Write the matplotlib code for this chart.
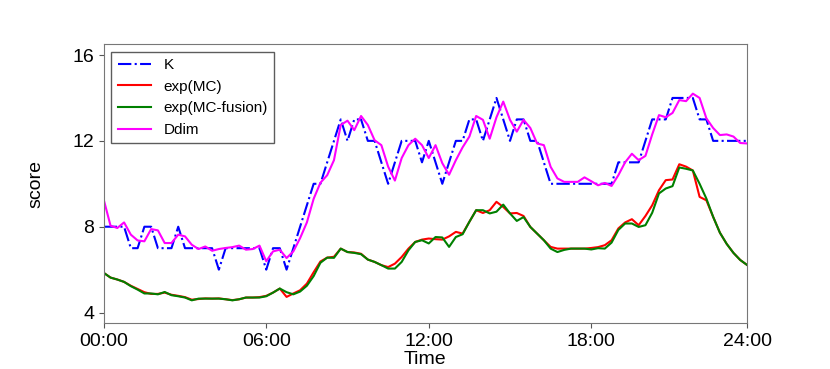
import matplotlib
matplotlib.use("Agg")
import matplotlib.pyplot as plt

plt.rcParams['font.family'] = ['Liberation Sans', 'DejaVu Sans']

# 15-min samples, index 0..95
K = [8, 8, 8, 8, 7, 7, 8, 8, 7, 7, 7, 8, 7, 7, 7, 7, 7, 6, 7, 7, 7, 7, 7, 7,
     6, 7, 7, 6, 7, 8, 9, 10, 10, 11, 12, 13, 12, 13, 13, 12, 12, 11, 10, 11,
     12, 12, 12, 11, 12, 11, 10, 11, 12, 12, 13, 13, 12, 13, 14, 13, 12, 13, 13, 12,
     12, 11, 10, 10, 10, 10, 10, 10, 10, 10, 10, 10, 11, 11, 11, 11, 12, 13, 13, 13,
     14, 14, 14, 14, 13, 13, 12, 12, 12, 12, 12, 12]

exp_mc = [5.85, 5.63, 5.54, 5.43, 5.25, 5.10, 4.95, 4.87, 4.87, 4.93, 4.83, 4.78,
          4.72, 4.60, 4.63, 4.66, 4.65, 4.66, 4.62, 4.58, 4.62, 4.70, 4.70, 4.72,
          4.78, 4.93, 5.12, 4.73, 4.89, 5.04, 5.35, 5.88, 6.38, 6.56, 6.60, 6.98,
          6.82, 6.80, 6.74, 6.47, 6.36, 6.21, 6.12, 6.28, 6.59, 6.98, 7.29, 7.40,
          7.45, 7.42, 7.40, 7.55, 7.76, 7.68, 8.23, 8.77, 8.64, 8.77, 9.16, 8.92,
          8.62, 8.64, 8.50, 7.99, 7.68, 7.37, 7.06, 6.98, 6.98, 6.98, 6.98, 6.98,
          7.01, 7.05, 7.14, 7.37, 7.92, 8.20, 8.35, 8.07, 8.50, 9.00, 9.70, 10.17,
          10.20, 10.91, 10.80, 10.62, 9.39, 9.23, 8.46, 7.72, 7.20, 6.78, 6.45, 6.22]

exp_mc_fusion = [5.85, 5.63, 5.54, 5.43, 5.23, 5.07, 4.89, 4.89, 4.85, 4.96, 4.81, 4.76,
                 4.70, 4.57, 4.65, 4.65, 4.65, 4.65, 4.62, 4.57, 4.62, 4.70, 4.70, 4.70,
                 4.76, 4.93, 5.12, 4.95, 4.85, 4.98, 5.25, 5.70, 6.32, 6.56, 6.55, 6.98,
                 6.82, 6.78, 6.72, 6.47, 6.36, 6.21, 6.05, 6.05, 6.36, 6.90, 7.29, 7.37,
                 7.22, 7.52, 7.50, 7.06, 7.52, 7.65, 8.23, 8.77, 8.77, 8.62, 8.70, 9.03,
                 8.62, 8.27, 8.45, 7.99, 7.68, 7.37, 6.98, 6.82, 6.92, 6.98, 6.98, 6.98,
                 6.94, 7.00, 6.98, 7.26, 7.85, 8.15, 8.15, 7.99, 8.07, 8.65, 9.55, 9.78,
                 9.89, 10.76, 10.70, 10.62, 10.00, 9.31, 8.46, 7.72, 7.20, 6.78, 6.45, 6.22]

ddim = [9.26, 8.05, 7.94, 8.20, 7.63, 7.36, 7.32, 7.89, 7.83, 7.24, 7.24, 7.63,
        7.55, 7.16, 6.96, 7.08, 6.88, 6.96, 7.01, 7.05, 7.12, 6.93, 6.96, 7.12,
        6.39, 6.85, 6.93, 6.54, 6.85, 7.47, 8.20, 9.30, 10.05, 10.40, 11.10, 12.74,
        12.94, 12.50, 13.16, 12.74, 12.03, 11.80, 10.80, 10.15, 11.20, 11.80, 12.10, 11.80,
        11.20, 11.80, 10.96, 10.42, 11.10, 11.70, 12.20, 13.16, 12.98, 12.10, 13.10, 13.83,
        12.98, 12.43, 12.98, 12.60, 11.88, 11.80, 10.79, 10.25, 10.09, 10.09, 10.09, 10.30,
        10.12, 9.93, 10.04, 9.90, 10.40, 11.00, 11.40, 11.10, 11.30, 12.30, 13.20, 13.10,
        13.30, 13.90, 13.85, 14.20, 14.00, 13.05, 12.60, 12.27, 12.30, 12.20, 11.90, 11.88]

tick_pos = [0, 24, 48, 72, 95]
tick_labels = ["00:00", "06:00", "12:00", "18:00", "24:00"]

x = list(range(len(K)))

fig = plt.figure(figsize=(8.3, 3.69), dpi=100)
ax = fig.add_subplot(111)
fig.subplots_adjust(left=0.125, right=0.9, top=0.88, bottom=0.125)

ax.plot(x, K, '-.', color='blue', lw=1.5, label='K')
ax.plot(x, exp_mc, color='red', lw=1.5, label='exp(MC)')
ax.plot(x, exp_mc_fusion, color='green', lw=1.5, label='exp(MC-fusion)')
ax.plot(x, ddim, color='magenta', lw=1.5, label='Ddim')

ax.set_xlim(0, 95)
ax.set_ylim(3.52, 16.5)
ax.set_yticks([4, 8, 12, 16])
ax.set_xticks(tick_pos)
ax.set_xticklabels(tick_labels)
ax.tick_params(labelsize=14, color='#555555', pad=3.5)
for s in ax.spines.values():
    s.set_color('#777777')

ax.set_xlabel("Time", fontsize=14, labelpad=1)
ax.set_ylabel("score", fontsize=14, labelpad=20)

leg = ax.legend(loc='upper left', fontsize=11, fancybox=False, edgecolor='#333333',
                handlelength=2.2, labelspacing=0.5)

fig.savefig("out.png", dpi=100)
